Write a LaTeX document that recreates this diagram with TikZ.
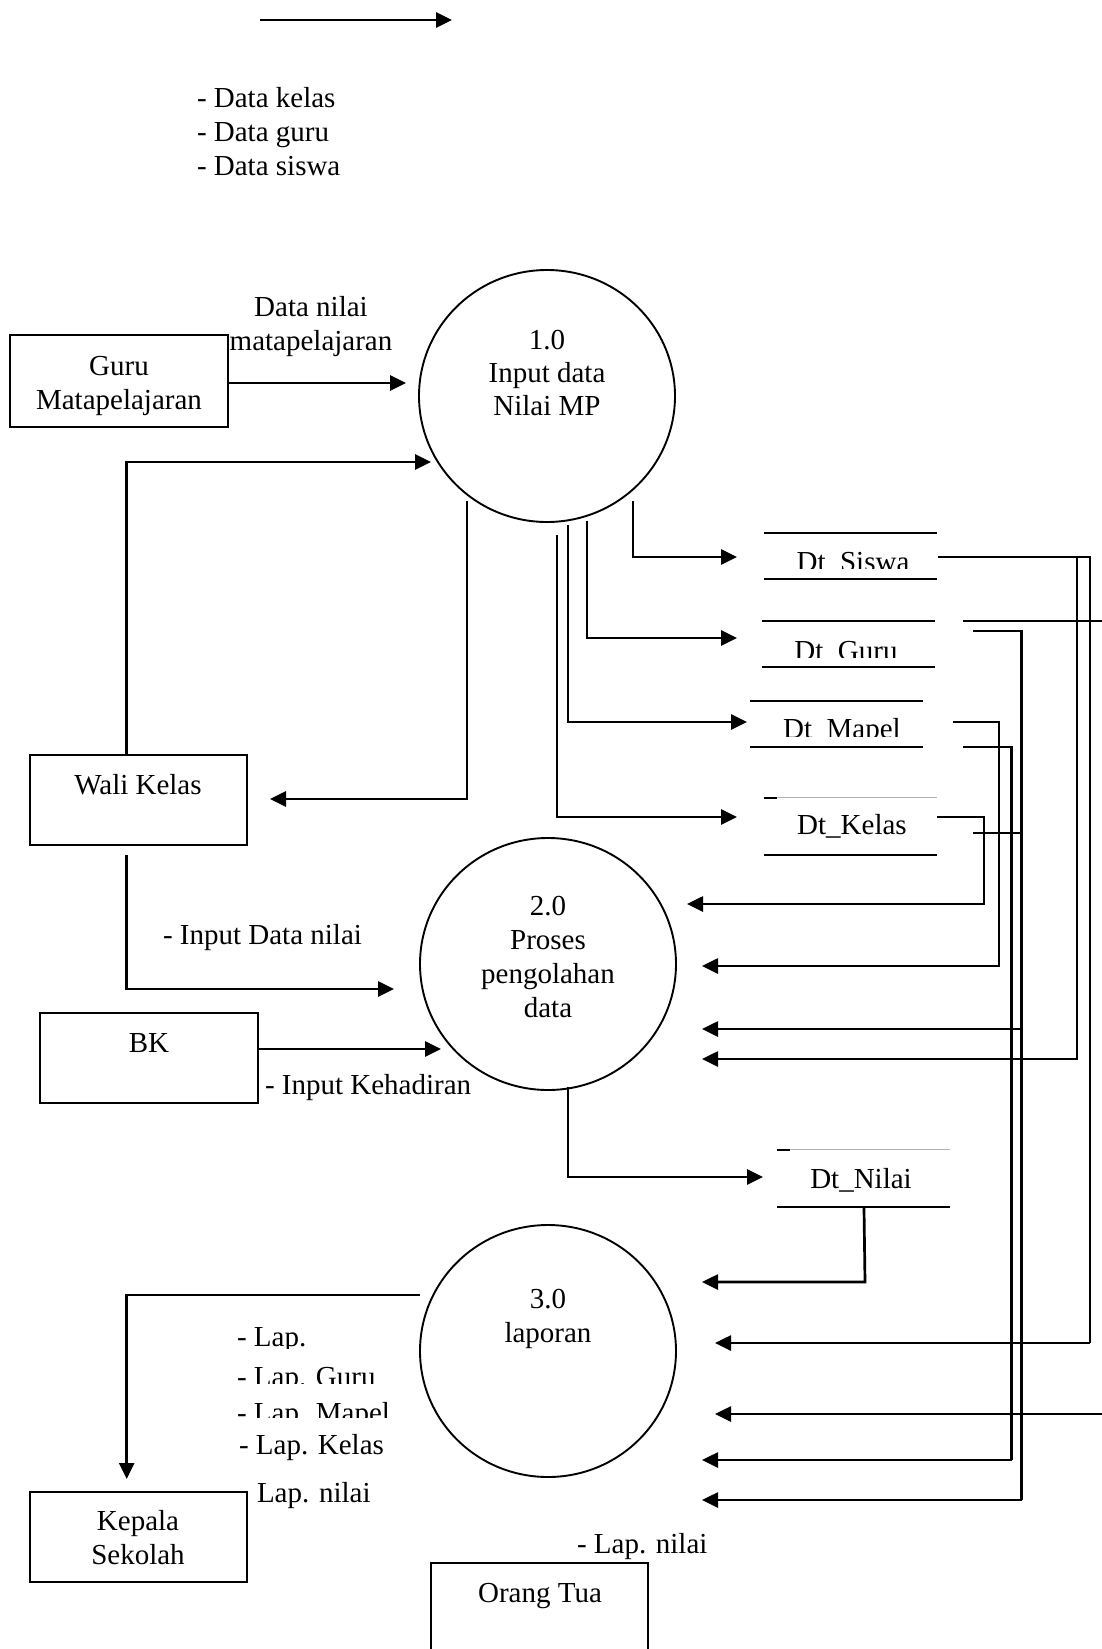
\documentclass[tikz,border=0pt]{standalone}
\usepackage{fontspec}
\setmainfont{Liberation Serif}
\usetikzlibrary{arrows.meta,shapes.geometric}
\begin{document}
\begin{tikzpicture}[x=1pt,y=-1pt,
 every node/.style={font=\fontsize{29}{34}\selectfont, inner sep=0pt, outer sep=0pt},
 conn/.style={line width=2.7pt},
 arr/.style={conn,-{Triangle[length=16pt,width=15pt]}},
 proc/.style={draw, ellipse, line width=1.9pt, minimum width=256pt, minimum height=252pt},
 ent/.style={draw, rectangle, line width=2.1pt},
 st/.style={line width=2.2pt},
 thin/.style={gray!60, line width=1pt},
 lbl/.style={anchor=base west},
 ctr/.style={anchor=base}]
\fill[white] (0,0) rectangle (1102,1649);
\useasboundingbox (0,0) rectangle (1102,1649);

% top arrow and list
\coordinate (ta) at (260,20); \coordinate (tb) at (452,20);
\draw[arr] (ta) -- (tb);
\node[lbl] (dl1) at (197,107) {- Data kelas};
\node[lbl] (dl2) at (197,141) {- Data guru};
\node[lbl] (dl3) at (197,175) {- Data siswa};

% processes
\node[proc] (p1) at (547,396) {};
\node[ctr] (p1a) at (547,349) {1.0};
\node[ctr] (p1b) at (547,382) {Input data};
\node[ctr] (p1c) at (547,415) {Nilai MP};
\node[proc] (p2) at (548,964) {};
\node[ctr] (p2a) at (548,915) {2.0};
\node[ctr] (p2b) at (548,949) {Proses};
\node[ctr] (p2c) at (548,983) {pengolahan};
\node[ctr] (p2d) at (548,1017) {data};
\node[proc] (p3) at (548,1351) {};
\node[ctr] (p3a) at (548,1308) {3.0};
\node[ctr] (p3b) at (548,1342) {laporan};

% entities
\node[ent, minimum width=218pt, minimum height=92pt] (guru) at (119,381) {};
\node[ctr] (gurua) at (119,375) {Guru};
\node[ctr] (gurub) at (119,409) {Matapelajaran};
\node[ent, minimum width=217pt, minimum height=90pt] (wali) at (138.5,800) {};
\node[ctr] (walia) at (138,794) {Wali Kelas};
\node[ent, minimum width=218pt, minimum height=90pt] (bk) at (149,1058) {};
\node[ctr] (bka) at (149,1052) {BK};
\node[ent, minimum width=217pt, minimum height=90pt] (kepala) at (138.5,1537) {};
\node[ctr] (kepa) at (138,1530) {Kepala};
\node[ctr] (kepb) at (138,1564) {Sekolah};
\draw[ent] (431,1660) -- (431,1563) -- (648,1563) -- (648,1660);
\node[ctr] (ortu) at (540,1602) {Orang Tua};

% labels
\node[ctr] (l1) at (311,316) {Data nilai};
\node[ctr] (l2) at (311,350) {matapelajaran};
\node[lbl] (l3) at (163,944) {- Input Data nilai};
\node[lbl] (l4) at (265,1094) {- Input Kehadiran};
\begin{scope}\clip (220,1310) rectangle (410,1348);
\node[lbl] (l5) at (237,1346) {- Lap.};\end{scope}
\begin{scope}\clip (220,1355) rectangle (410,1383.5);
\node[lbl] (l6) at (237,1386) {- Lap. Guru};\end{scope}
\begin{scope}\clip (220,1395) rectangle (410,1417);
\node[lbl] (l7) at (237,1422) {- Lap. Mapel};\end{scope}
\node[lbl] (l8) at (239,1454) {- Lap. Kelas};
\node[lbl] (l9) at (257,1502) {Lap. nilai};
\node[lbl] (l10) at (577,1553) {- Lap. nilai};

% data stores
\draw[st] (764,533) -- (937,533); \draw[st] (764,579) -- (937,579);
\begin{scope}\clip (760,540) rectangle (940,568);
\node[ctr] (siswa) at (853,571) {Dt\_Siswa};\end{scope}
\draw[st] (762,621) -- (935,621); \draw[st] (762,667) -- (935,667);
\begin{scope}\clip (760,628) rectangle (940,657);
\node[ctr] (dguru) at (846,660) {Dt\_Guru};\end{scope}
\draw[st] (750,701) -- (923,701); \draw[st] (750,747) -- (923,747);
\begin{scope}\clip (745,708) rectangle (930,736);
\node[ctr] (mapel) at (842,738) {Dt\_Mapel};\end{scope}
\draw[thin] (764,797) -- (937,797); \draw[st] (764,798) -- (777,798);
\draw[st] (764,855) -- (937,855);
\node[ctr] (kelas) at (852,834) {Dt\_Kelas};
\draw[thin] (777,1149) -- (950,1149); \draw[st] (777,1150) -- (790,1150);
\draw[st] (777,1207) -- (950,1207);
\node[ctr] (nilai) at (861,1188) {Dt\_Nilai};

% flows around process 1
\draw[arr] (228,383) -- (406,383);
\draw[arr] (126.7,755) -- (126.7,462) -- (431,462);
\draw[arr] (467,501) -- (467,799) -- (270,799);
\draw[arr] (633,501) -- (633,557) -- (737,557);
\draw[arr] (587,521) -- (587,638) -- (737,638);
\draw[arr] (568,525) -- (568,722) -- (747,722);
\draw[arr] (557,535) -- (557,817) -- (737,817);

% flows into process 2
\draw[arr] (126.7,855) -- (126.7,989) -- (394,989);
\draw[arr] (258,1049) -- (441,1049);
\draw[arr] (937,817) -- (984,817) -- (984,904) -- (687,904);
\draw[arr] (953,722) -- (999,722) -- (999,966) -- (702,966);
\draw[arr] (1021.5,1029) -- (702,1029);
\draw[arr] (1077,557) -- (1077,1059) -- (702,1059);

% store side connectors
\draw[conn] (938,557) -- (1090,557) -- (1090,1343);
\draw[conn] (963,621) -- (1102,621);
\draw[conn] (973,631) -- (1021.5,631) -- (1021.5,1500);
\draw[conn] (963,747) -- (1011.5,747) -- (1011.5,1460);
\draw[conn] (973,833) -- (1021.5,833);

% process 2 to Dt_Nilai, Dt_Nilai to process 3
\draw[arr] (568,1087) -- (568,1177) -- (763,1177);
\draw[arr] (864,1208) -- (865,1282) -- (702,1282);

% flows into process 3
\draw[arr] (1090,1343) -- (715,1343);
\draw[arr] (1102,1414) -- (715,1414);
\draw[arr] (1011.5,1460) -- (702,1460);
\draw[arr] (1021.5,1500) -- (702,1500);

% process 3 to Kepala Sekolah
\draw[arr] (420,1295) -- (126.7,1295) -- (126.7,1479);
\end{tikzpicture}
\end{document}
